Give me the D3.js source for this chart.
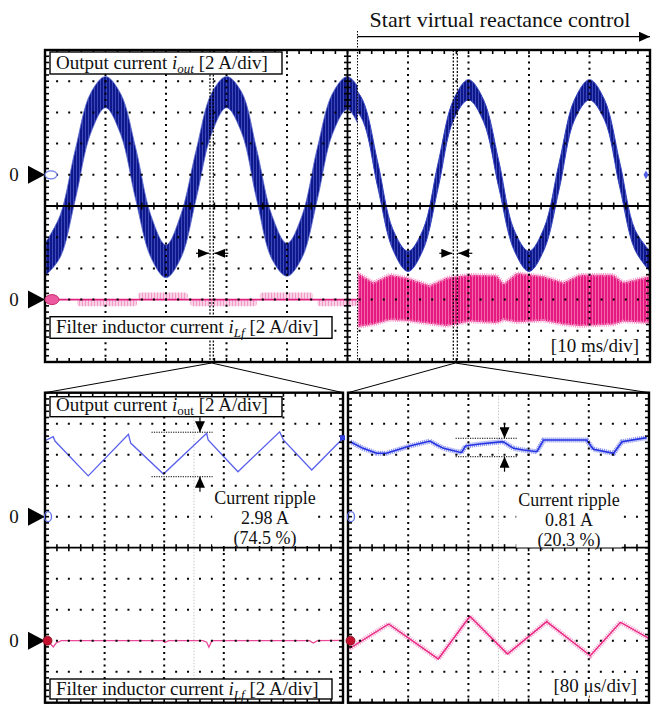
<!DOCTYPE html>
<html>
<head>
<meta charset="utf-8">
<script src="https://cdn.jsdelivr.net/npm/d3@7"></script>
<style>
  body { margin: 0; background: #fff; }
  svg { display: block; }
  text { font-family: 'Liberation Serif', 'Times New Roman', serif; fill: #111; white-space: pre; }
  .halo { stroke: #fff; stroke-width: 5px; paint-order: stroke; stroke-linejoin: round; }
</style>
</head>
<body>
<div class="container"></div>
<script>
// ---- record 1 : 10 ms/div (time in ms, current in A) ----
const controlStart = 51.65;

const outTimeBefore = [0, 2.5, 5, 7.5, 10, 12.5, 15, 17.5, 20, 22.5, 25, 27.5, 30, 32.5, 35, 37.5, 40, 42.5, 45, 47.5, 50, 52.5];
const outHighBefore = [-4.4, -2.6, 1.6, 5.2, 6.3, 5.2, 1.7, -2.6, -4.5, -2.5, 1.6, 5.2, 6.3, 5.3, 1.6, -2.6, -4.4, -2.6, 1.7, 5.2, 6.3, 5.2];
const outLowBefore = [-6.5, -5.3, -1.6, 2.6, 4.3, 2.6, -1.6, -5.3, -6.6, -5.3, -1.5, 2.6, 4.3, 2.7, -1.6, -5.4, -6.5, -5.3, -1.6, 2.6, 4.2, 2.6];

const outTimeAfter = [50, 52.5, 55, 57.5, 60, 62.5, 65, 67.5, 70, 72.5, 75, 77.5, 80, 82.5, 85, 87.5, 90, 92.5, 95, 97.5, 100];
const outHighAfter = [6.1, 4.8, 0.8, -3.5, -4.9, -3.5, 0.8, 4.8, 6.1, 4.8, 0.9, -3.5, -4.9, -3.4, 0.8, 4.8, 6.1, 4.8, 0.8, -3.5, -4.9];
const outLowAfter = [4.8, 3.5, -0.8, -4.8, -6.2, -4.8, -0.8, 3.5, 4.8, 3.4, -0.8, -4.8, -6.2, -4.8, -0.9, 3.5, 4.8, 3.5, -0.8, -4.8, -6.2];

// small inductor-current ripple bursts before the control starts
const lfBumpStart = [5.3, 15.4, 24, 35.5, 45];
const lfBumpEnd = [15.2, 23.6, 35, 44.3, 51.6];
const lfBumpLevel = [-0.42, 0.45, -0.42, 0.45, -0.42];

const lfTimeAfter = [51.7, 54.3, 57, 59.8, 63.6, 66.4, 70.2, 74.7, 75.8, 78, 82.4, 85.7, 88.4, 93.9, 95.6, 100];
const lfHighAfter = [1.7, 1.1, 1.6, 1.4, 0.9, 1.4, 1.6, 1.55, 1.0, 1.7, 1.5, 1.1, 1.6, 1.6, 1.1, 1.5];
const lfLowAfter = [-1.75, -1.6, -1.3, -1.35, -1.55, -1.7, -1.4, -1.5, -1.3, -1.45, -1.35, -1.6, -1.7, -1.6, -1.4, -1.5];

const cursorLeft = [27.27, 27.82];
const cursorRight = [67.49, 68.15];

// ---- record 2 : 80 us/div zooms (time in us, current in A) ----
const zoomOutTimeBefore = [0, 11, 13.4, 58, 112, 115, 159, 217, 219, 259, 315, 320, 358, 400];
const zoomOutBefore = [4.9, 5.16, 4.88, 2.63, 5.32, 4.75, 2.75, 5.38, 4.95, 2.9, 5.48, 4.95, 3.01, 5.06];
const zoomLfTimeBefore = [0, 5, 11, 15, 22, 158, 161, 166, 212, 217, 220, 224, 355, 360, 366, 400];
const zoomLfBefore = [0, -0.05, -0.4, -0.15, 0, 0, -0.12, 0, 0, -0.1, -0.42, 0, 0, -0.15, 0, 0.02];

const zoomOutTimeAfter = [3, 20, 38, 51, 65, 82, 109, 118, 127, 151, 156, 175, 206, 220, 233, 251, 260, 286, 317, 326, 353, 364, 397];
const zoomOutAfter = [4.84, 4.41, 4.09, 4.09, 4.3, 4.56, 4.88, 4.63, 4.41, 4.13, 4.56, 4.69, 4.84, 4.41, 4.3, 4.19, 4.95, 4.95, 4.95, 4.35, 4.09, 4.84, 5.1];
const zoomLfTimeAfter = [2, 54, 120, 162, 212, 264, 322, 362, 400];
const zoomLfAfter = [-0.5, 1.08, -1.18, 1.57, -0.86, 1.23, -0.97, 1.19, 0.15];

const rippleTime = [143, 225];      // extent of the dotted ripple markers (us)
const rippleArrowTime = 208;
const rippleHigh = [5.45, 5.06];
const rippleLow = [2.58, 3.87];
const rippleText = [['Current ripple', '2.98 A', '(74.5 %)'], ['Current ripple', '0.81 A', '(20.3 %)']];

const width = 659;
const height = 704;

const topPanel = { x0: 45, x1: 650, y0: 50, y1: 362, nx: 10, ny: 10 };
const leftPanel = { x0: 45, x1: 343, y0: 392.7, y1: 702.7, nx: 5, ny: 10 };
const rightPanel = { x0: 348, x1: 649, y0: 392.7, y1: 702.7, nx: 5, ny: 10 };

const svg = d3
  .select('.container')
  .append('svg')
  .attr('width', width)
  .attr('height', height);

const defs = svg.append('defs');

const hatch = (id, base, streak) => {
  const p = defs
    .append('pattern')
    .attr('id', id)
    .attr('patternUnits', 'userSpaceOnUse')
    .attr('width', 3)
    .attr('height', 10);
  p.append('rect').attr('width', 3).attr('height', 10).attr('fill', base);
  p.append('rect').attr('x', 1).attr('width', 0.8).attr('height', 10).attr('fill', streak);
};
hatch('navy', '#0f178c', '#4656c2');
hatch('pink', '#e5197f', '#f47ab8');
hatch('palePink', '#f9d2e6', '#f08cc0');

const arrowHead = (id, w, h) => {
  defs
    .append('marker')
    .attr('id', id)
    .attr('markerUnits', 'userSpaceOnUse')
    .attr('markerWidth', w)
    .attr('markerHeight', h)
    .attr('refX', w)
    .attr('refY', h / 2)
    .attr('orient', 'auto')
    .append('path')
    .attr('d', `M0,0 L${w},${h / 2} L0,${h} z`)
    .attr('fill', '#000');
};
arrowHead('headBig', 11, 10);
arrowHead('headSmall', 11, 9);

// scales
const xTop = d3.scaleLinear().domain([0, 100]).range([topPanel.x0, topPanel.x1]);
const yOut = d3.scaleLinear().domain([-12, 8]).range([topPanel.y1, topPanel.y0]);
const yLf = d3.scaleLinear().domain([-4, 16]).range([topPanel.y1, topPanel.y0]);
const xLeft = d3.scaleLinear().domain([0, 400]).range([leftPanel.x0, leftPanel.x1]);
const xRight = d3.scaleLinear().domain([0, 400]).range([rightPanel.x0, rightPanel.x1]);
const yOutZoom = d3.scaleLinear().domain([-12, 8]).range([leftPanel.y1, leftPanel.y0]);
const yLfZoom = d3.scaleLinear().domain([-4, 16]).range([leftPanel.y1, leftPanel.y0]);

const clip = (id, x0, x1, p) => {
  defs
    .append('clipPath')
    .attr('id', id)
    .append('rect')
    .attr('x', x0)
    .attr('y', p.y0)
    .attr('width', x1 - x0)
    .attr('height', p.y1 - p.y0);
};
clip('beforeClip', topPanel.x0, xTop(controlStart), topPanel);
clip('afterClip', xTop(controlStart), topPanel.x1, topPanel);
clip('leftClip', leftPanel.x0, leftPanel.x1, leftPanel);
clip('rightClip', rightPanel.x0, rightPanel.x1, rightPanel);

// ---------- top record traces ----------
const band = (times, high, low, y, curve) =>
  d3
    .area()
    .x((d, i) => xTop(times[i]))
    .y0((d, i) => y(low[i]))
    .y1((d, i) => y(high[i]))
    .curve(curve)(times);

svg
  .append('path')
  .attr('clip-path', 'url(#beforeClip)')
  .attr('d', band(outTimeBefore, outHighBefore, outLowBefore, yOut, d3.curveCatmullRom))
  .attr('fill', 'url(#navy)')
  .attr('stroke', '#5868d0')
  .attr('stroke-width', 0.8);

svg
  .append('path')
  .attr('clip-path', 'url(#afterClip)')
  .attr('d', band(outTimeAfter, outHighAfter, outLowAfter, yOut, d3.curveCatmullRom))
  .attr('fill', 'url(#navy)')
  .attr('stroke', '#3444c0')
  .attr('stroke-width', 1);

// pale ripple bursts and the thin inductor current line before the control
svg
  .append('g')
  .selectAll('rect')
  .data(lfBumpStart)
  .enter()
  .append('rect')
  .attr('x', (d) => xTop(d))
  .attr('width', (d, i) => xTop(lfBumpEnd[i]) - xTop(d))
  .attr('y', (d, i) => Math.min(yLf(0), yLf(lfBumpLevel[i])))
  .attr('height', (d, i) => Math.abs(yLf(lfBumpLevel[i]) - yLf(0)))
  .attr('rx', 3)
  .attr('fill', 'url(#palePink)');

svg
  .append('line')
  .attr('x1', xTop(0))
  .attr('x2', xTop(controlStart))
  .attr('y1', yLf(0))
  .attr('y2', yLf(0))
  .attr('stroke', '#e0207f')
  .attr('stroke-width', 1.6);

svg
  .append('path')
  .attr('clip-path', 'url(#afterClip)')
  .attr('d', band(lfTimeAfter, lfHighAfter, lfLowAfter, yLf, d3.curveLinear))
  .attr('fill', 'url(#pink)')
  .attr('stroke', '#f590c4')
  .attr('stroke-width', 3.5)
  .attr('stroke-dasharray', '1,1.2');

// ---------- zoomed record traces ----------
const trace = (times, values, x, y) =>
  d3
    .line()
    .x((d, i) => x(times[i]))
    .y((d, i) => y(d))(values);

const gLeft = svg.append('g').attr('clip-path', 'url(#leftClip)');
const gRight = svg.append('g').attr('clip-path', 'url(#rightClip)');

[gLeft, gRight].forEach((g, k) => {
  const x = k ? xRight : xLeft;
  g.append('line')
    .attr('x1', x(200))
    .attr('x2', x(200))
    .attr('y1', leftPanel.y0)
    .attr('y2', leftPanel.y1)
    .attr('stroke', '#c8c8c8')
    .attr('stroke-width', 1)
    .attr('stroke-dasharray', '1.5,1.5');
});

gLeft
  .append('path')
  .attr('d', trace(zoomOutTimeBefore, zoomOutBefore, xLeft, yOutZoom))
  .attr('fill', 'none')
  .attr('stroke', '#5a60ee')
  .attr('stroke-width', 1.3);

gLeft
  .append('path')
  .attr('d', trace(zoomLfTimeBefore, zoomLfBefore, xLeft, yLfZoom))
  .attr('fill', 'none')
  .attr('stroke', '#ec4a98')
  .attr('stroke-width', 1.3);

gRight
  .append('path')
  .attr('d', trace(zoomOutTimeAfter, zoomOutAfter, xRight, yOutZoom))
  .attr('fill', 'none')
  .attr('stroke', '#9298f2')
  .attr('stroke-width', 5)
  .attr('stroke-dasharray', '1.2,0.8');
gRight
  .append('path')
  .attr('d', trace(zoomOutTimeAfter, zoomOutAfter, xRight, yOutZoom))
  .attr('fill', 'none')
  .attr('stroke', '#2434e0')
  .attr('stroke-width', 1.6);

gRight
  .append('path')
  .attr('d', trace(zoomLfTimeAfter, zoomLfAfter, xRight, yLfZoom))
  .attr('fill', 'none')
  .attr('stroke', '#f5a6cd')
  .attr('stroke-width', 5)
  .attr('stroke-dasharray', '1.2,1');
gRight
  .append('path')
  .attr('d', trace(zoomLfTimeAfter, zoomLfAfter, xRight, yLfZoom))
  .attr('fill', 'none')
  .attr('stroke', '#e8207f')
  .attr('stroke-width', 1.3);

// ---------- graticules ----------
const drawGrid = (p, solidV) => {
  const g = svg.append('g');
  const gx = d3.scaleLinear().domain([0, p.nx]).range([p.x0, p.x1]);
  const gy = d3.scaleLinear().domain([0, p.ny]).range([p.y0, p.y1]);
  const minorX = d3.range(0, p.nx * 5 + 1).map((i) => gx(i / 5));
  const minorY = d3.range(0, p.ny * 5 + 1).map((i) => gy(i / 5));
  const stepX = minorX[1] - minorX[0];
  const stepY = minorY[1] - minorY[0];
  const midX = p.nx / 2;
  const midY = p.ny / 2;

  g.selectAll(null)
    .data(d3.range(1, p.nx).filter((i) => !(solidV && i === midX)))
    .enter()
    .append('line')
    .attr('x1', (d) => gx(d))
    .attr('x2', (d) => gx(d))
    .attr('y1', p.y0)
    .attr('y2', p.y1)
    .attr('stroke', '#000')
    .attr('stroke-width', 2)
    .attr('stroke-dasharray', `2,${stepY - 2}`)
    .attr('stroke-dashoffset', 1);

  g.selectAll(null)
    .data(d3.range(1, p.ny).filter((i) => i !== midY))
    .enter()
    .append('line')
    .attr('y1', (d) => gy(d))
    .attr('y2', (d) => gy(d))
    .attr('x1', p.x0)
    .attr('x2', p.x1)
    .attr('stroke', '#000')
    .attr('stroke-width', 2)
    .attr('stroke-dasharray', `2,${stepX - 2}`)
    .attr('stroke-dashoffset', 1);

  g.append('line')
    .attr('x1', p.x0)
    .attr('x2', p.x1)
    .attr('y1', gy(midY))
    .attr('y2', gy(midY))
    .attr('stroke', '#000')
    .attr('stroke-width', 1.8);
  if (solidV) {
    g.append('line')
      .attr('x1', gx(midX))
      .attr('x2', gx(midX))
      .attr('y1', p.y0)
      .attr('y2', p.y1)
      .attr('stroke', '#000')
      .attr('stroke-width', 1.8);
  }

  const ticks = [];
  minorY.forEach((y) => {
    ticks.push([p.x0, y, p.x0 + 4, y]);
    ticks.push([p.x1 - 4, y, p.x1, y]);
    if (solidV) ticks.push([gx(midX) - 3.5, y, gx(midX) + 3.5, y]);
  });
  minorX.forEach((x) => {
    ticks.push([x, p.y0, x, p.y0 + 4]);
    ticks.push([x, p.y1 - 4, x, p.y1]);
    ticks.push([x, gy(midY) - 3.5, x, gy(midY) + 3.5]);
  });
  g.selectAll(null)
    .data(ticks)
    .enter()
    .append('line')
    .attr('x1', (d) => d[0])
    .attr('y1', (d) => d[1])
    .attr('x2', (d) => d[2])
    .attr('y2', (d) => d[3])
    .attr('stroke', '#000')
    .attr('stroke-width', 1.6);

  g.append('rect')
    .attr('x', p.x0)
    .attr('y', p.y0)
    .attr('width', p.x1 - p.x0)
    .attr('height', p.y1 - p.y0)
    .attr('fill', 'none')
    .attr('stroke', '#000')
    .attr('stroke-width', 2.4);
};

drawGrid(topPanel, true);
drawGrid(leftPanel, false);
drawGrid(rightPanel, false);

// ---------- channel markers ----------
const zeroMarker = (y) => {
  svg.append('text').attr('x', 14).attr('y', y + 6).attr('text-anchor', 'middle').style('font-size', '19px').text('0');
  svg
    .append('path')
    .attr('d', `M28,${y - 9} L28,${y + 9} L45,${y} z`)
    .attr('fill', '#000');
};
zeroMarker(yOut(0));
zeroMarker(yLf(0));
zeroMarker(yOutZoom(0));
zeroMarker(yLfZoom(0));

svg.append('ellipse').attr('cx', 51).attr('cy', yOut(0)).attr('rx', 6).attr('ry', 4)
  .attr('fill', '#fff').attr('stroke', '#7080e8').attr('stroke-width', 1.2);
svg.append('ellipse').attr('cx', 52).attr('cy', yLf(0)).attr('rx', 7).attr('ry', 5)
  .attr('fill', '#ee5aa0').attr('stroke', '#c8306f').attr('stroke-width', 1);
svg.append('path').attr('d', d3.symbol(d3.symbolDiamond, 22)()).attr('transform', `translate(${topPanel.x1 - 4},${yOut(0)})`)
  .attr('fill', '#5060e0');

[leftPanel.x0, rightPanel.x0].forEach((x) => {
  svg.append('ellipse').attr('cx', x + 3).attr('cy', yOutZoom(0)).attr('rx', 3.5).attr('ry', 5)
    .attr('fill', 'none').attr('stroke', '#6070ea').attr('stroke-width', 1.3);
  svg.append('circle').attr('cx', x + 2.5).attr('cy', yLfZoom(0)).attr('r', 4.5)
    .attr('fill', '#c4102e').attr('stroke', '#801020').attr('stroke-width', 0.8);
});
svg.append('rect').attr('x', leftPanel.x1 - 3).attr('y', yOutZoom(zoomOutBefore[zoomOutBefore.length - 1]) - 3)
  .attr('width', 5).attr('height', 5).attr('fill', '#3040e0');

// ---------- control start / zoom cursors ----------
svg
  .append('line')
  .attr('x1', xTop(controlStart))
  .attr('x2', xTop(controlStart))
  .attr('y1', 31)
  .attr('y2', topPanel.y1)
  .attr('stroke', '#000')
  .attr('stroke-width', 1)
  .attr('stroke-dasharray', '1.5,1.5');

svg
  .append('line')
  .attr('x1', xTop(controlStart))
  .attr('x2', topPanel.x1)
  .attr('y1', 36.7)
  .attr('y2', 36.7)
  .attr('stroke', '#000')
  .attr('stroke-width', 1.2)
  .attr('marker-end', 'url(#headBig)');

svg
  .append('text')
  .attr('x', 500)
  .attr('y', 27)
  .attr('text-anchor', 'middle')
  .style('font-size', '22px')
  .text('Start virtual reactance control');

[cursorLeft, cursorRight].forEach((c) => {
  svg
    .selectAll(null)
    .data(c)
    .enter()
    .append('line')
    .attr('x1', (d) => xTop(d))
    .attr('x2', (d) => xTop(d))
    .attr('y1', topPanel.y0)
    .attr('y2', topPanel.y1)
    .attr('stroke', '#000')
    .attr('stroke-width', 1.2)
    .attr('stroke-dasharray', '2,1.5');

  const xa = xTop(c[0]);
  const xb = xTop(c[1]);
  const ya = yOut(-5.03);
  svg.append('line').attr('x1', xa - 14).attr('x2', xa - 1).attr('y1', ya).attr('y2', ya)
    .attr('stroke', '#000').attr('stroke-width', 1.2).attr('marker-end', 'url(#headSmall)');
  svg.append('line').attr('x1', xb + 15).attr('x2', xb + 1).attr('y1', ya).attr('y2', ya)
    .attr('stroke', '#000').attr('stroke-width', 1.2).attr('marker-end', 'url(#headSmall)');
});

// lines from the cursor to the zoom panels
const zoomLinks = [
  [xTop(d3.mean(cursorLeft)), leftPanel],
  [xTop(d3.mean(cursorRight)), rightPanel],
];
zoomLinks.forEach(([x, p]) => {
  [p.x0, p.x1].forEach((xe) => {
    svg
      .append('line')
      .attr('x1', x)
      .attr('y1', topPanel.y1 + 1)
      .attr('x2', xe)
      .attr('y2', p.y0)
      .attr('stroke', '#000')
      .attr('stroke-width', 1);
  });
});

// ---------- ripple annotations ----------
[xLeft, xRight].forEach((x, k) => {
  const g = svg.append('g');
  [rippleHigh[k], rippleLow[k]].forEach((v) => {
    g.append('line')
      .attr('x1', x(rippleTime[0]))
      .attr('x2', x(rippleTime[1]))
      .attr('y1', yOutZoom(v))
      .attr('y2', yOutZoom(v))
      .attr('stroke', '#000')
      .attr('stroke-width', 1)
      .attr('stroke-dasharray', '1.2,1.2');
  });
  const xa = x(rippleArrowTime);
  g.append('line').attr('x1', xa).attr('x2', xa)
    .attr('y1', yOutZoom(rippleHigh[k]) - 15).attr('y2', yOutZoom(rippleHigh[k]))
    .attr('stroke', '#000').attr('stroke-width', 1.2).attr('marker-end', 'url(#headBig)');
  g.append('line').attr('x1', xa).attr('x2', xa)
    .attr('y1', yOutZoom(rippleLow[k]) + 15).attr('y2', yOutZoom(rippleLow[k]))
    .attr('stroke', '#000').attr('stroke-width', 1.2).attr('marker-end', 'url(#headBig)');

  // white backing, then the three lines
  const cx = k ? 569 : 265;
  const base = k ? 505.5 : 504;
  const bg = g.append('rect').attr('fill', '#fff');
  const texts = rippleText[k].map((s, i) =>
    g.append('text')
      .attr('x', cx)
      .attr('y', base + i * 20)
      .attr('text-anchor', 'middle')
      .style('font-size', '18px')
      .text(s)
  );
  const boxes = texts.map((t) => t.node().getBBox());
  const bx0 = d3.min(boxes, (b) => b.x) - 2;
  const bx1 = d3.max(boxes, (b) => b.x + b.width) + 2;
  const by1 = Math.min(boxes[2].y + boxes[2].height - 3, yOutZoom(-4) - 1.5);
  bg.attr('x', bx0)
    .attr('width', bx1 - bx0)
    .attr('y', boxes[0].y + 1)
    .attr('height', by1 - boxes[0].y - 1);
});

// ---------- label boxes ----------
const labelBox = (x, y, w, h, baseline, pieces) => {
  svg
    .append('rect')
    .attr('x', x)
    .attr('y', y)
    .attr('width', w)
    .attr('height', h)
    .attr('fill', '#fff')
    .attr('stroke', '#000')
    .attr('stroke-width', 1.4);
  const t = svg.append('text').attr('x', x + 6).attr('y', baseline).style('font-size', '19px');
  let shifted = false;
  pieces.forEach(([s, kind]) => {
    const span = t.append('tspan').text(s);
    if (kind.startsWith('sub')) {
      span.attr('dy', 4).style('font-size', '13px');
      shifted = true;
    } else if (shifted) {
      span.attr('dy', -4);
      shifted = false;
    }
    if (kind.endsWith('i')) span.style('font-style', 'italic');
  });
};

labelBox(50, 52, 232, 22, 68.5, [['Output current ', 'n'], ['i', 'i'], ['out', 'sub-i'], [' [2 A/div]', 'n']]);
labelBox(50, 316.7, 282, 21.6, 333.3, [['Filter inductor current ', 'n'], ['i', 'i'], ['Lf', 'sub-i'], [' [2 A/div]', 'n']]);
labelBox(50, 396.7, 232, 20, 411, [['Output current ', 'n'], ['i', 'i'], ['out', 'sub'], [' [2 A/div]', 'n']]);
labelBox(50, 679, 282, 20, 694.5, [['Filter inductor current ', 'n'], ['i', 'i'], ['Lf', 'sub-i'], [' [2 A/div]', 'n']]);

svg.append('text').attr('class', 'halo').attr('x', 639).attr('y', 352).attr('text-anchor', 'end').style('font-size', '19px').text('[10 ms/div]');
svg.append('text').attr('class', 'halo').attr('x', 637).attr('y', 692).attr('text-anchor', 'end').style('font-size', '19px').text('[80 \u03bcs/div]');
</script>
</body>
</html>
